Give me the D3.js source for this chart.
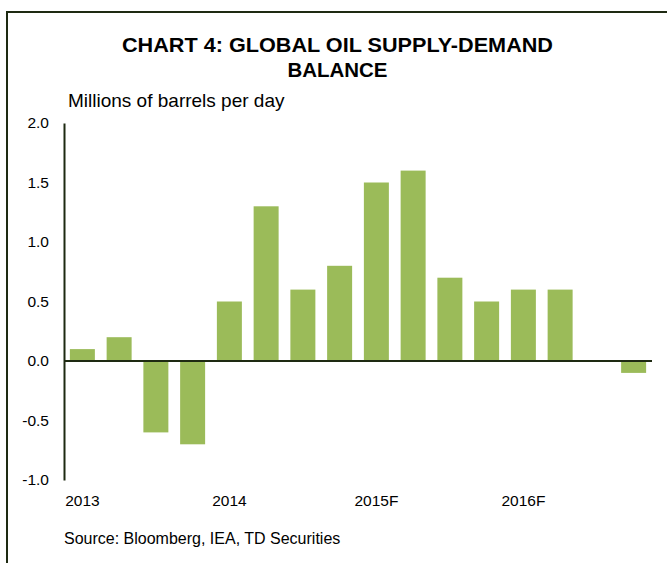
<!DOCTYPE html>
<html><head><meta charset="utf-8">
<script src="https://cdn.jsdelivr.net/npm/d3@7"></script>
<style>body{margin:0;background:#fff;}svg{display:block;font-family:"Liberation Sans",Arial,sans-serif;}</style>
</head><body>
<svg id="c" width="667" height="563"></svg>
<script>
const categories = ["2013Q1","2013Q2","2013Q3","2013Q4","2014Q1","2014Q2","2014Q3","2014Q4",
  "2015Q1","2015Q2","2015Q3","2015Q4","2016Q1","2016Q2","2016Q3","2016Q4"];
const values = [0.1,0.2,-0.6,-0.7,0.5,1.3,0.6,0.8,1.5,1.6,0.7,0.5,0.6,0.6,0.0,-0.1];
const xTickCats = ["2013Q1","2014Q1","2015Q1","2016Q1"];
const xTickLabels = ["2013","2014","2015F","2016F"];
const yTicks = [-1.0,-0.5,0.0,0.5,1.0,1.5,2.0];

const svg = d3.select("#c");
// frame
svg.append("path").attr("d","M7,563 V12 H668").attr("fill","none").attr("stroke","#1e2a12").attr("stroke-width",2);

svg.append("text").attr("x",337.5).attr("y",52).attr("text-anchor","middle")
  .attr("font-size",20).attr("font-weight","bold").attr("fill","#000")
  .attr("textLength",431).attr("lengthAdjust","spacingAndGlyphs").text("CHART 4: GLOBAL OIL SUPPLY-DEMAND");
svg.append("text").attr("x",337.5).attr("y",76.5).attr("text-anchor","middle")
  .attr("font-size",20).attr("font-weight","bold").attr("fill","#000")
  .attr("textLength",100).attr("lengthAdjust","spacingAndGlyphs").text("BALANCE");
svg.append("text").attr("x",68).attr("y",107).attr("font-size",19).attr("fill","#000").text("Millions of barrels per day");

const x = d3.scaleBand().domain(categories).range([64,652]).paddingInner(0.32).paddingOuter(0.16);
const y = d3.scaleLinear().domain([-1,2]).range([480,123]);

svg.append("g").selectAll("rect").data(values).join("rect")
  .attr("x",(d,i)=>x(categories[i]))
  .attr("y",d=>y(Math.max(0,d)))
  .attr("width",x.bandwidth())
  .attr("height",d=>Math.abs(y(d)-y(0)))
  .attr("fill","#9bbb59");

// zero line
svg.append("line").attr("x1",64).attr("x2",652).attr("y1",y(0)).attr("y2",y(0))
  .attr("stroke","#1e2a12").attr("stroke-width",2);

// y axis
const fmt = d => d3.format(".1f")(d).replace("\u2212","-");
const ya = d3.axisLeft(y).tickValues(yTicks).tickFormat(fmt).tickSize(0).tickPadding(15);
const gy = svg.append("g").attr("transform","translate(64,0)").call(ya);
gy.select(".domain").attr("stroke","#1e2a12").attr("stroke-width",2);
gy.selectAll("text").attr("font-size",15.5).attr("fill","#000").attr("font-family","Liberation Sans, Arial, sans-serif");

// x axis labels
const xa = d3.axisBottom(x).tickValues(xTickCats).tickFormat((d)=>xTickLabels[xTickCats.indexOf(d)]).tickSize(0).tickPadding(15);
const gx = svg.append("g").attr("transform","translate(0,480)").call(xa);
gx.select(".domain").remove();
gx.selectAll("text").attr("font-size",15.5).attr("fill","#000").attr("font-family","Liberation Sans, Arial, sans-serif");

const src = svg.append("text").attr("x",64).attr("y",544).attr("font-size",16).attr("fill","#000");
src.append("tspan").text("Source: ");
src.append("tspan").text("Bloomberg, IEA, TD Securities");
</script>
</body></html>
